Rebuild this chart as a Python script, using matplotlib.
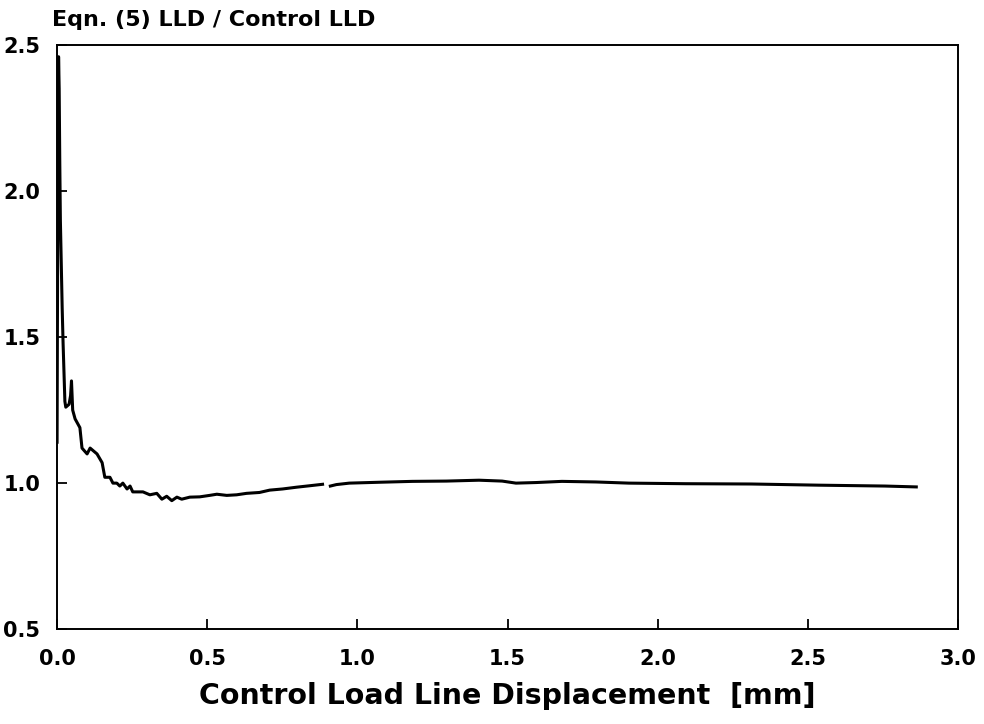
import numpy as np
import matplotlib
matplotlib.use("Agg")
import matplotlib.pyplot as plt

# values (x in mm, y = ratio), NaN marks the small gap in the trace
disp = [0.000, 0.001, 0.003, 0.005, 0.007, 0.009, 0.011, 0.014, 0.017, 0.020,
        0.023, 0.026, 0.029, 0.040, 0.045, 0.048, 0.052, 0.060, 0.076, 0.083,
        0.100, 0.110, 0.133, 0.150, 0.159, 0.176, 0.186, 0.199, 0.209, 0.219,
        0.233, 0.243, 0.252, 0.269, 0.286, 0.309, 0.332, 0.349, 0.365, 0.382,
        0.399, 0.415, 0.442, 0.475, 0.508, 0.532, 0.565, 0.598, 0.631, 0.674,
        0.708, 0.751, 0.797, 0.841, 0.884, 0.895, 0.910, 0.930, 0.973, 1.073,
        1.183, 1.296, 1.405, 1.482, 1.528, 1.595, 1.681, 1.794, 1.904, 2.093,
        2.312, 2.535, 2.757, 2.861]
ratio = [1.14, 1.50, 2.10, 2.46, 2.35, 2.10, 1.90, 1.75, 1.60, 1.48,
         1.38, 1.28, 1.26, 1.27, 1.30, 1.35, 1.25, 1.22, 1.19, 1.12,
         1.10, 1.12, 1.10, 1.07, 1.02, 1.02, 1.00, 1.00, 0.99, 1.00,
         0.98, 0.99, 0.97, 0.97, 0.97, 0.96, 0.965, 0.945, 0.955, 0.94,
         0.952, 0.945, 0.952, 0.953, 0.958, 0.962, 0.958, 0.960, 0.965, 0.968,
         0.976, 0.980, 0.986, 0.991, 0.996, np.nan, 0.990, 0.995, 1.000, 1.003,
         1.006, 1.007, 1.010, 1.007, 1.000, 1.002, 1.006, 1.004, 1.000, 0.998,
         0.997, 0.993, 0.990, 0.987]

x_ticks = [0.0, 0.5, 1.0, 1.5, 2.0, 2.5, 3.0]
y_ticks = [0.5, 1.0, 1.5, 2.0, 2.5]

plt.rcParams['font.family'] = ['DejaVu Sans']
plt.rcParams['font.weight'] = 'bold'

fig = plt.figure(figsize=(9.84, 7.24), dpi=100)
ax = fig.add_axes([0.058, 0.131, 0.9156, 0.8068])

ax.plot(disp, ratio, color='black', lw=2.2)

ax.set_xlim(0, 3.0)
ax.set_ylim(0.5, 2.5)
ax.set_xticks(x_ticks)
ax.set_yticks(y_ticks)
ax.set_xticklabels([f"{v:.1f}" for v in x_ticks], fontsize=15, fontweight='bold')
ax.set_yticklabels([f"{v:.1f}" for v in y_ticks], fontsize=15, fontweight='bold')
ax.tick_params(axis='both', direction='in', length=7, width=1.3)
ax.tick_params(axis='x', pad=14)
ax.tick_params(axis='y', pad=12)
for s in ax.spines.values():
    s.set_linewidth(1.4)

ax.set_xlabel("Control Load Line Displacement  [mm]", fontsize=20.5, fontweight='bold', labelpad=10)
fig.text(0.053, 0.972, "Eqn. (5) LLD / Control LLD", fontsize=16, fontweight='bold',
         ha='left', va='center')

fig.savefig("out.png", dpi=100)
